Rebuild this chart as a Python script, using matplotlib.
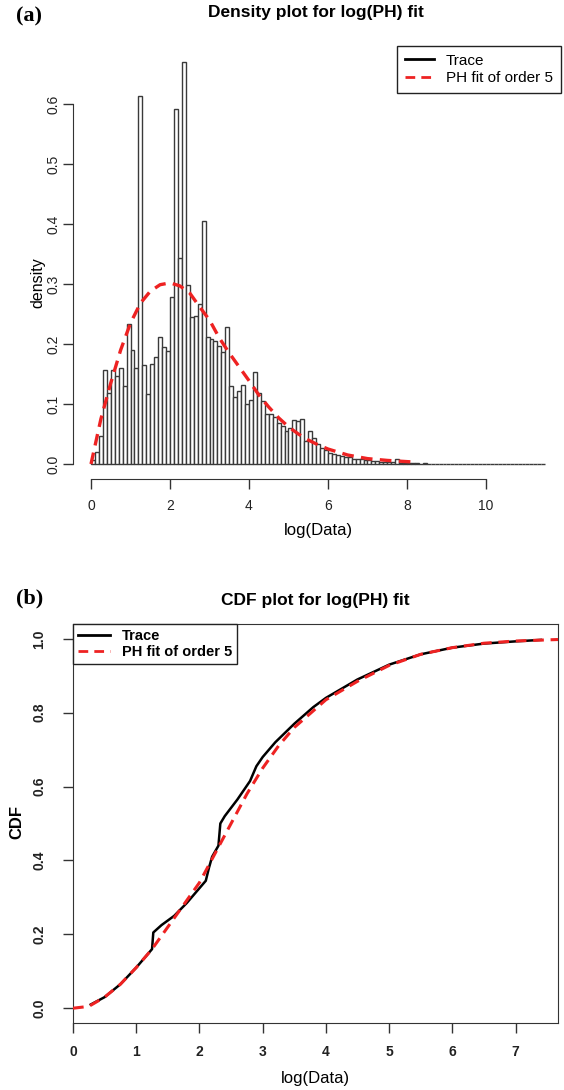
import numpy as np
import matplotlib
matplotlib.use("Agg")
import matplotlib.pyplot as plt
from matplotlib.lines import Line2D

plt.rcParams['font.family'] = ['Liberation Sans', 'DejaVu Sans']

# ---- panel (a): histogram of log(Data), bin width 0.1 ----
bin_width = 0.1
hist_density = [
    0.007, 0.020, 0.046, 0.156, 0.119, 0.156, 0.147, 0.160, 0.130, 0.233,
    0.190, 0.160, 0.614, 0.165, 0.117, 0.166, 0.178, 0.212, 0.195, 0.188,
    0.278, 0.592, 0.343, 0.670, 0.298, 0.245, 0.247, 0.266, 0.406, 0.211,
    0.208, 0.205, 0.197, 0.186, 0.229, 0.130, 0.111, 0.121, 0.132, 0.100,
    0.106, 0.154, 0.119, 0.105, 0.083, 0.084, 0.079, 0.069, 0.064, 0.055,
    0.060, 0.073, 0.071, 0.075, 0.038, 0.055, 0.043, 0.033, 0.027, 0.023,
    0.019, 0.017, 0.015, 0.013, 0.012, 0.011, 0.009, 0.008, 0.008, 0.007,
    0.006, 0.005, 0.005, 0.004, 0.004, 0.004, 0.004, 0.009, 0.002, 0.002,
    0.002, 0.001, 0.001, 0.000, 0.002,
] + [0.0] * 30

ph_dens_x = [0.0, 0.1, 0.25, 0.5, 0.75, 1.0, 1.25, 1.5, 1.75, 2.0, 2.25, 2.5,
             2.75, 3.0, 3.25, 3.5, 4.0, 4.25, 4.5, 4.75, 5.0, 5.25, 5.5, 5.75,
             6.0, 6.5, 7.0, 7.5, 8.0, 8.25]
ph_dens_y = [0.0, 0.030, 0.075, 0.135, 0.190, 0.235, 0.268, 0.288, 0.299, 0.302,
             0.297, 0.285, 0.262, 0.240, 0.210, 0.185, 0.139, 0.115, 0.095, 0.077,
             0.062, 0.050, 0.040, 0.032, 0.025, 0.015, 0.009, 0.006, 0.004, 0.003]

# ---- panel (b): CDFs ----
trace_x = [0.28, 0.5, 0.75, 1.0, 1.15, 1.25, 1.27, 1.4, 1.6, 1.8, 2.0, 2.1,
           2.15, 2.2, 2.3, 2.33, 2.4, 2.6, 2.8, 2.9, 3.0, 3.2, 3.5, 3.8, 4.0,
           4.2, 4.5, 5.0, 5.5, 6.0, 6.5, 7.0, 7.4]
trace_y = [0.01, 0.03, 0.065, 0.11, 0.14, 0.16, 0.205, 0.225, 0.25, 0.285,
           0.325, 0.345, 0.38, 0.41, 0.44, 0.50, 0.52, 0.565, 0.615, 0.655,
           0.68, 0.72, 0.77, 0.815, 0.84, 0.86, 0.89, 0.93, 0.958, 0.976,
           0.987, 0.993, 0.997]

ph_cdf_x = [0.0, 0.25, 0.5, 0.75, 1.0, 1.25, 1.5, 1.75, 2.0, 2.25, 2.5, 2.75,
            3.0, 3.25, 3.5, 4.0, 4.5, 5.0, 5.5, 6.0, 6.5, 7.0, 7.67]
ph_cdf_y = [0.0, 0.005, 0.03, 0.065, 0.11, 0.16, 0.22, 0.28, 0.34, 0.42, 0.50,
            0.58, 0.65, 0.71, 0.76, 0.835, 0.885, 0.928, 0.958, 0.976, 0.988,
            0.994, 0.998]

W, H = 564, 1090
fig = plt.figure(figsize=(W / 100, H / 100), dpi=100)


def px_axes(left, top, right, bottom):
    return fig.add_axes([left / W, 1 - bottom / H, (right - left) / W, (bottom - top) / H])


axis_col = '#333333'
red = '#ee2222'
dash = (0, (3.5, 2.2))

# ---------------- (a) ----------------
ax1 = px_axes(73, 46, 563, 479)
edges = np.arange(len(hist_density)) * bin_width
ax1.bar(edges, hist_density, width=bin_width, align='edge', facecolor='white',
        edgecolor='#3a3a3a', linewidth=1.0)
ax1.plot(ph_dens_x, ph_dens_y, color=red, lw=2.4, ls=dash)
ax1.set_xlim(-0.456, 11.95)
ax1.set_ylim(-0.025, 0.697)
for s in ['top', 'right']:
    ax1.spines[s].set_visible(False)
ax1.spines['left'].set_bounds(0, 0.6)
ax1.spines['bottom'].set_bounds(0, 10)
for s in ['left', 'bottom']:
    ax1.spines[s].set_color(axis_col)
ax1.set_xticks([0, 2, 4, 6, 8, 10])
ax1.set_yticks([0.0, 0.1, 0.2, 0.3, 0.4, 0.5, 0.6])
ax1.set_yticklabels(['0.0', '0.1', '0.2', '0.3', '0.4', '0.5', '0.6'],
                    rotation=90, va='center')
ax1.tick_params(axis='both', direction='out', length=7.2, width=1,
                color=axis_col, labelsize=10, labelcolor='#222222')
ax1.tick_params(axis='x', pad=7)
ax1.tick_params(axis='y', pad=2)
handles = [Line2D([], [], color='black', lw=2),
           Line2D([], [], color=red, lw=2, ls=dash)]
leg = ax1.legend(handles, ['Trace', 'PH fit of order 5'], loc='upper right',
                 bbox_to_anchor=(0.995, 1.0), borderaxespad=0, fancybox=False,
                 edgecolor='#222222', framealpha=1, fontsize=11,
                 handlelength=1.9, handletextpad=0.8, borderpad=0.5,
                 labelspacing=0.25)
leg.get_frame().set_linewidth(1)

fig.text(316 / W, 1 - 12 / H, 'Density plot for log(PH) fit', ha='center',
         va='center', fontsize=12.5, fontweight='bold')
fig.text(16 / W, 1 - 16 / H, '(a)', ha='left', va='center', fontsize=16,
         fontweight='bold', family='Liberation Serif')
fig.text(318 / W, 1 - 531 / H, 'log(Data)', ha='center', va='center', fontsize=12)
fig.text(38 / W, 1 - 283 / H, 'density', ha='center', va='center', fontsize=11.5,
         rotation=90)

# ---------------- (b) ----------------
ax2 = px_axes(73, 624, 558, 1023)
ax2.plot(trace_x, trace_y, color='black', lw=1.8, zorder=3)
ax2.plot(ph_cdf_x, ph_cdf_y, color=red, lw=2.2, ls=dash, zorder=4)
ax2.set_xlim(0, 7.67)
ax2.set_ylim(-0.04, 1.04)
for s in ax2.spines.values():
    s.set_color(axis_col)
ax2.set_xticks(range(8))
ax2.set_yticks([0.0, 0.2, 0.4, 0.6, 0.8, 1.0])
ax2.set_yticklabels(['0.0', '0.2', '0.4', '0.6', '0.8', '1.0'], rotation=90,
                    va='center')
ax2.tick_params(axis='both', direction='out', length=7, width=1, color=axis_col,
                labelsize=10, labelcolor='#222222')
ax2.tick_params(axis='x', pad=9)
ax2.tick_params(axis='y', pad=12)
for lab in ax2.get_xticklabels() + ax2.get_yticklabels():
    lab.set_fontweight('bold')
leg2 = ax2.legend(handles, ['Trace', 'PH fit of order 5'], loc='upper left',
                  bbox_to_anchor=(0.0, 1.0), borderaxespad=0, fancybox=False,
                  edgecolor='#222222', framealpha=1, handlelength=2.2,
                  handletextpad=0.8, borderpad=0.35, labelspacing=0.15,
                  prop={'size': 10.5, 'weight': 'bold'})
leg2.get_frame().set_linewidth(1)

fig.text(315 / W, 1 - 600 / H, 'CDF plot for log(PH) fit', ha='center',
         va='center', fontsize=12.5, fontweight='bold')
fig.text(16 / W, 1 - 598 / H, '(b)', ha='left', va='center', fontsize=16,
         fontweight='bold', family='Liberation Serif')
fig.text(315 / W, 1 - 1078 / H, 'log(Data)', ha='center', va='center', fontsize=12)
fig.text(17 / W, 1 - 822 / H, 'CDF', ha='center', va='center', fontsize=12,
         fontweight='bold', rotation=90)

fig.savefig('out.png', dpi=100)
